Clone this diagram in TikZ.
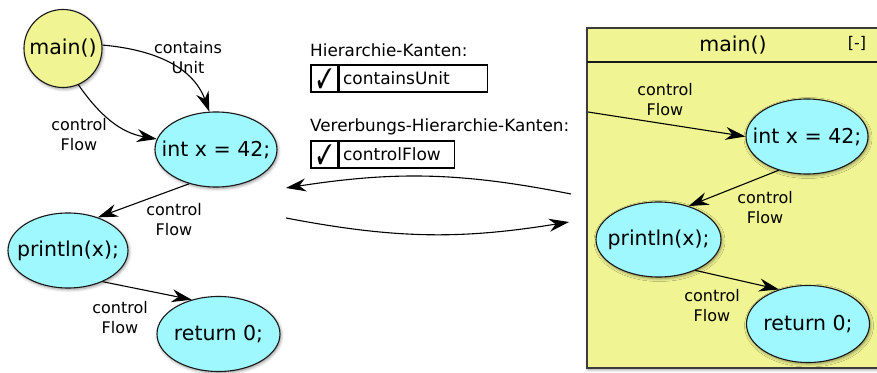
\documentclass[tikz,border=0pt]{standalone}
\usepackage{fontspec}
\usepackage{pifont}
\setmainfont{DejaVu Sans}
\usetikzlibrary{arrows.meta,shadows.blur,shapes.geometric}
\definecolor{nodeyellow}{RGB}{240,244,146}
\definecolor{nodecyan}{RGB}{160,248,255}
\definecolor{inkgray}{RGB}{25,25,25}
\newcommand\zerowide[1]{\makebox[0pt]{#1}}
\newcommand\tickmark{\resizebox{15pt}{20pt}{\ding{51}}}
\begin{document}
\begin{tikzpicture}[x=1pt,y=1pt,
  softshadow/.style={blur shadow={shadow xshift=1pt,shadow yshift=-1.5pt,shadow blur radius=3pt,shadow opacity=45}},
  stmt/.style={ellipse,draw=inkgray,line width=1.1pt,fill=nodecyan,inner sep=0pt,
    minimum width=122pt,minimum height=75pt,font=\fontsize{20.5}{24}\selectfont,softshadow},
  unit/.style={circle,draw=inkgray,line width=1.1pt,fill=nodeyellow,inner sep=0pt,
    minimum size=78pt,font=\fontsize{20.5}{24}\selectfont,softshadow},
  elabel/.style={align=center,inner sep=0pt,font=\fontsize{16}{20}\selectfont},
  flowline/.style={draw=black,line width=1.1pt,arrows={-Stealth[length=20pt,width=13pt,inset=6.5pt]}},
  caption/.style={anchor=west,inner sep=0pt,font=\fontsize{16.8}{20}\selectfont},
  tick/.style={draw=black,line width=1.1pt,minimum width=27pt,minimum height=27pt,inner sep=0pt},
  entry/.style={draw=black,line width=1.1pt,minimum height=27pt,inner xsep=4pt,inner ysep=0pt,
    align=left,anchor=west,font=\fontsize{17}{20}\selectfont},
]
\useasboundingbox (0,0) rectangle (877,372);

% ---- expanded graph on the left ----
\node[unit] (mainL) at (63,323.5) {\zerowide{main()}};
\node[stmt] (intL) at (216,222.5) {\zerowide{int x = 42;}};
\node[stmt,minimum width=120pt] (printL) at (68,121.5) {\zerowide{println(x);}};
\node[stmt,minimum width=123pt] (retL) at (218.5,38) {\zerowide{return 0;}};

\draw[flowline] (mainL.5) to[out=-5,in=110] (intL.100);
\draw[flowline] (mainL.-67) to[out=-55,in=170] (intL.170);
\draw[flowline] (intL.-128) -- (printL.48);
\draw[flowline] (printL.-42) -- (retL.128);

\node[elabel] (lbA) at (188,314) {contains\\Unit};
\node[elabel] (lbB) at (79,237) {control\\Flow};
\node[elabel] (lbC) at (174,152) {control\\Flow};
\node[elabel] (lbD) at (120,54) {control\\Flow};

% ---- edge type filters ----
\node[caption] (capH) at (310,322) {Hierarchie-Kanten:};
\node[tick] (tickH) at (324.5,293.5) {\tickmark};
\node[entry,text width=140pt] (boxH) at (tickH.east) {containsUnit};
\node[caption] (capV) at (310,245) {Vererbungs-Hierarchie-Kanten:};
\node[tick] (tickV) at (324.5,217.5) {\tickmark};
\node[entry,text width=107pt] (boxV) at (tickV.east) {controlFlow};

% ---- switching arrows ----
\coordinate (swA) at (571,178);
\coordinate (swB) at (286,184);
\coordinate (swC) at (286,154);
\coordinate (swD) at (569,150);
\draw[flowline] (swA) to[bend right=10] (swB);
\draw[flowline] (swC) to[bend right=10] (swD);

% ---- collapsed unit frame on the right ----
\path[fill=nodeyellow,draw=inkgray!85,line width=1.4pt,softshadow] (587,4) rectangle (880,344);
\draw[inkgray,line width=1.1pt] (587,310) -- (880,310);
\node[inner sep=0pt,font=\fontsize{20.5}{24}\selectfont] (frameTitle) at (733,327) {main()};
\node[inner sep=0pt,font=\fontsize{16}{20}\selectfont] (frameToggle) at (857,329) {[-]};

\node[stmt] (intR) at (807,235.5) {\zerowide{int x = 42;}};
\node[stmt,minimum width=125pt] (printR) at (658.5,132.5) {\zerowide{println(x);}};
\node[stmt,minimum width=123pt,minimum height=77pt] (retR) at (808,48) {\zerowide{return 0;}};

\coordinate (entryR) at (588,260);
\draw[flowline] (entryR) -- (intR.west);
\draw[flowline] (intR.-130) -- (printR.48);
\draw[flowline] (printR.-40) -- (retR.130);

\node[elabel] (lbE) at (665,272) {control\\Flow};
\node[elabel] (lbF) at (765,164.5) {control\\Flow};
\node[elabel] (lbG) at (712,66) {control\\Flow};
\end{tikzpicture}
\end{document}
